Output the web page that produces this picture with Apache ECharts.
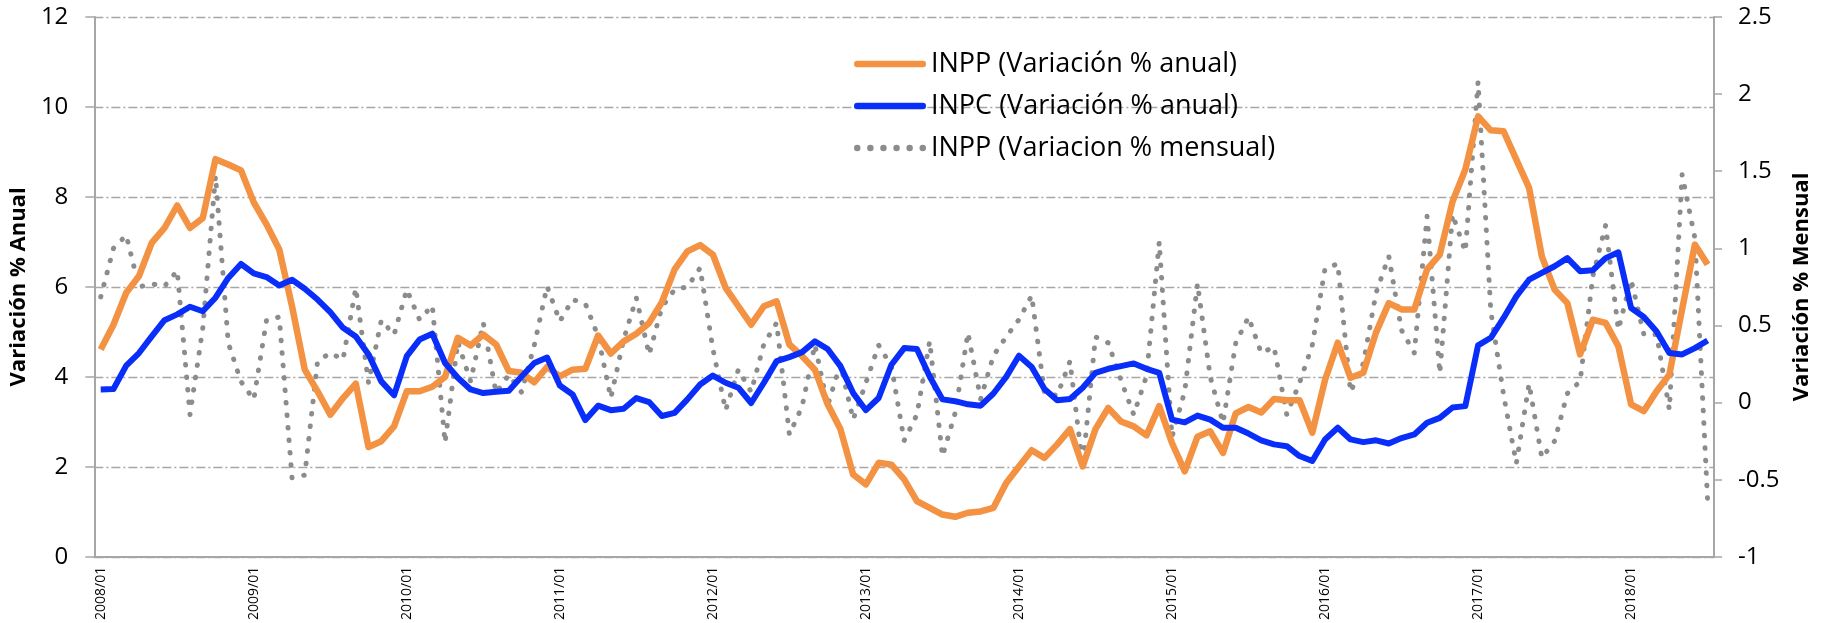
<!DOCTYPE html>
<html>
<head>
<meta charset="utf-8">
<script src="https://cdn.jsdelivr.net/npm/echarts@6/dist/echarts.min.js"></script>
<style>
  html, body { margin: 0; padding: 0; background: #fff; }
  #chart { width: 1821px; height: 623px; }
</style>
</head>
<body>
<div id="chart"></div>
<script>
// months 2008/01 .. 2018/07
const months = [];
for (let y = 2008; y <= 2018; y++) {
  for (let m = 1; m <= 12; m++) {
    if (y === 2018 && m > 7) break;
    months.push(y + '/' + (m < 10 ? '0' + m : m));
  }
}

// INPP (Variación % anual)
const inppAnual = [
  4.61, 5.16, 5.87, 6.24, 6.98, 7.31, 7.81, 7.31, 7.53, 8.84, 8.72, 8.59,
  7.88, 7.39, 6.83, 5.57, 4.16, 3.68, 3.16, 3.53, 3.85, 2.44, 2.57, 2.90,
  3.68, 3.68, 3.78, 4.00, 4.87, 4.70, 4.94, 4.72, 4.13, 4.09, 3.88, 4.22,
  4.01, 4.16, 4.18, 4.92, 4.52, 4.79, 4.96, 5.20, 5.66, 6.39, 6.79, 6.93,
  6.72, 5.98, 5.57, 5.16, 5.57, 5.68, 4.72, 4.46, 4.16, 3.39, 2.84, 1.83,
  1.61, 2.09, 2.05, 1.72, 1.24, 1.09, 0.94, 0.89, 0.98, 1.01, 1.09, 1.64,
  2.01, 2.37, 2.20, 2.50, 2.84, 2.01, 2.84, 3.31, 3.01, 2.90, 2.70, 3.35,
  2.53, 1.90, 2.67, 2.79, 2.31, 3.19, 3.33, 3.21, 3.51, 3.48, 3.48, 2.76,
  3.93, 4.76, 3.98, 4.09, 4.99, 5.64, 5.50, 5.50, 6.39, 6.72, 7.90, 8.61,
  9.79, 9.48, 9.46, 8.83, 8.20, 6.68, 5.94, 5.64, 4.50, 5.27, 5.20, 4.68,
  3.39, 3.24, 3.68, 4.05, 5.50, 6.94, 6.50
];

// INPC (Variación % anual)
const inpcAnual = [
  3.72, 3.73, 4.25, 4.53, 4.90, 5.26, 5.39, 5.56, 5.46, 5.76, 6.20, 6.51,
  6.30, 6.22, 6.03, 6.16, 5.96, 5.72, 5.44, 5.09, 4.90, 4.50, 3.90, 3.59,
  4.46, 4.83, 4.96, 4.31, 3.98, 3.72, 3.64, 3.67, 3.69, 4.01, 4.31, 4.43,
  3.81, 3.61, 3.04, 3.36, 3.26, 3.29, 3.53, 3.44, 3.13, 3.20, 3.50, 3.83,
  4.03, 3.87, 3.76, 3.42, 3.87, 4.35, 4.44, 4.55, 4.79, 4.62, 4.24, 3.64,
  3.26, 3.53, 4.27, 4.64, 4.62, 4.01, 3.50, 3.46, 3.39, 3.36, 3.63, 4.00,
  4.47, 4.22, 3.73, 3.48, 3.51, 3.76, 4.09, 4.18, 4.24, 4.30, 4.18, 4.09,
  3.05, 2.99, 3.14, 3.05, 2.87, 2.87, 2.74, 2.59, 2.50, 2.46, 2.24, 2.13,
  2.61, 2.87, 2.61, 2.55, 2.59, 2.52, 2.64, 2.72, 2.98, 3.09, 3.32, 3.35,
  4.70, 4.87, 5.31, 5.79, 6.16, 6.31, 6.46, 6.64, 6.35, 6.37, 6.64, 6.77,
  5.53, 5.33, 5.01, 4.53, 4.50, 4.64, 4.81
];

// INPP (Variacion % mensual) - right axis
const inppMensual = [
  0.685, 1.00, 1.085, 0.75, 0.77, 0.754, 0.856, -0.078, 0.48, 1.47, 0.387, 0.136,
  0.02, 0.534, 0.555, -0.488, -0.47, 0.268, 0.322, 0.279, 0.743, 0.128, 0.534, 0.44,
  0.733, 0.538, 0.629, -0.26, 0.393, 0.138, 0.517, 0.063, 0.18, 0.067, 0.374, 0.754,
  0.527, 0.668, 0.642, 0.43, 0.03, 0.408, 0.679, 0.311, 0.618, 0.733, 0.75, 0.873,
  0.348, -0.05, 0.214, 0.069, 0.38, 0.517, -0.207, -0.024, 0.376, -0.019, 0.251, -0.11,
  0.128, 0.372, 0.236, -0.246, -0.078, 0.398, -0.348, -0.067, 0.452, 0.024, 0.305, 0.426,
  0.538, 0.694, 0.063, 0.046, 0.268, -0.41, 0.426, 0.387, 0.145, -0.078, 0.171, 1.041,
  -0.222, 0.074, 0.771, 0.167, -0.132, 0.387, 0.555, 0.322, 0.361, -0.078, 0.128, 0.372,
  0.869, 0.90, 0.069, 0.253, 0.711, 0.949, 0.469, 0.322, 1.208, 0.19, 1.22, 0.979,
  2.08, 0.592, 0.05, -0.395, 0.123, -0.358, -0.25, 0.059, 0.138, 0.82, 1.149, 0.473,
  0.797, 0.441, 0.441, -0.045, 1.478, 1.067, -0.639
];

const seriesNames = ['INPP (Variación % anual)', 'INPC (Variación % anual)', 'INPP (Variacion % mensual)'];

// legend icons: thick rounded line, and a row of dots
const lineIcon = 'path://M3.25,0 L68.75,0 A3.25,3.25 0 0,1 68.75,6.5 L3.25,6.5 A3.25,3.25 0 0,1 3.25,0 Z';
let dots = '';
for (let k = 0; k < 6; k++) {
  const cx = 3.25 + k * 13.1;
  dots += 'M' + (cx - 3.25) + ',3.25 A3.25,3.25 0 1,0 ' + (cx + 3.25) + ',3.25 A3.25,3.25 0 1,0 ' + (cx - 3.25) + ',3.25 Z ';
}
const dotIcon = 'path://' + dots;

const chart = echarts.init(document.getElementById('chart'));
const axisGray = '#A6A6A6';
const font = '"Open Sans", "Noto Sans", sans-serif';

const option = {
  animation: false,
  backgroundColor: '#fff',
  textStyle: { fontFamily: font },
  grid: { left: 81, right: 94, top: 17, bottom: 66 },
  legend: {
    data: [
      { name: seriesNames[0], icon: lineIcon },
      { name: seriesNames[1], icon: lineIcon },
      { name: seriesNames[2], icon: dotIcon }
    ],
    orient: 'vertical',
    left: 849,
    top: 44,
    itemWidth: 72,
    itemHeight: 6.5,
    itemGap: 12,
    textStyle: { fontSize: 27, color: '#000', fontFamily: font, lineHeight: 30 }
  },
  xAxis: {
    type: 'category',
    data: months,
    boundaryGap: true,
    axisLine: { lineStyle: { color: axisGray, width: 2 } },
    axisTick: { interval: 0, length: 6, lineStyle: { color: axisGray, width: 1.5 } },
    axisLabel: {
      interval: (i) => i % 12 === 0,
      rotate: 90,
      fontSize: 14,
      margin: 10,
      color: '#000'
    },
    splitLine: { show: false }
  },
  yAxis: [
    {
      type: 'value',
      min: 0, max: 12, interval: 2,
      name: 'Variación % Anual',
      nameLocation: 'middle',
      nameGap: 45,
      nameTextStyle: { fontSize: 22, fontWeight: 'bold', color: '#000' },
      axisLine: { show: true, lineStyle: { color: axisGray, width: 2 } },
      axisTick: { show: true, length: 9, lineStyle: { color: axisGray, width: 1.5 } },
      axisLabel: { fontSize: 24, color: '#000', margin: 26 },
      splitLine: { show: true, lineStyle: { color: axisGray, width: 1.3, type: [9, 3, 2, 3] } }
    },
    {
      type: 'value',
      min: -1, max: 2.5, interval: 0.5,
      name: 'Variación % Mensual',
      nameLocation: 'middle',
      nameGap: 77,
      nameRotate: 90,
      nameTextStyle: { fontSize: 22, fontWeight: 'bold', color: '#000' },
      position: 'right',
      axisLine: { show: true, lineStyle: { color: axisGray, width: 2 } },
      axisTick: { show: true, length: 8, lineStyle: { color: axisGray, width: 1.5 } },
      axisLabel: { fontSize: 24, color: '#000', margin: 24 },
      splitLine: { show: false }
    }
  ],
  series: [
    {
      name: seriesNames[2],
      type: 'line',
      yAxisIndex: 1,
      data: inppMensual,
      symbol: 'none',
      z: 1,
      color: '#8C8C8C',
      lineStyle: { color: '#8C8C8C', width: 5, type: [0.5, 12], cap: 'round', join: 'round' }
    },
    {
      name: seriesNames[0],
      type: 'line',
      yAxisIndex: 0,
      data: inppAnual,
      symbol: 'none',
      z: 3,
      color: '#F39242',
      lineStyle: { color: '#F39242', width: 6.5, join: 'round' }
    },
    {
      name: seriesNames[1],
      type: 'line',
      yAxisIndex: 0,
      data: inpcAnual,
      symbol: 'none',
      z: 4,
      color: '#0A2EFA',
      lineStyle: { color: '#0A2EFA', width: 6, join: 'round' }
    }
  ]
};

chart.setOption(option);
</script>
</body>
</html>
